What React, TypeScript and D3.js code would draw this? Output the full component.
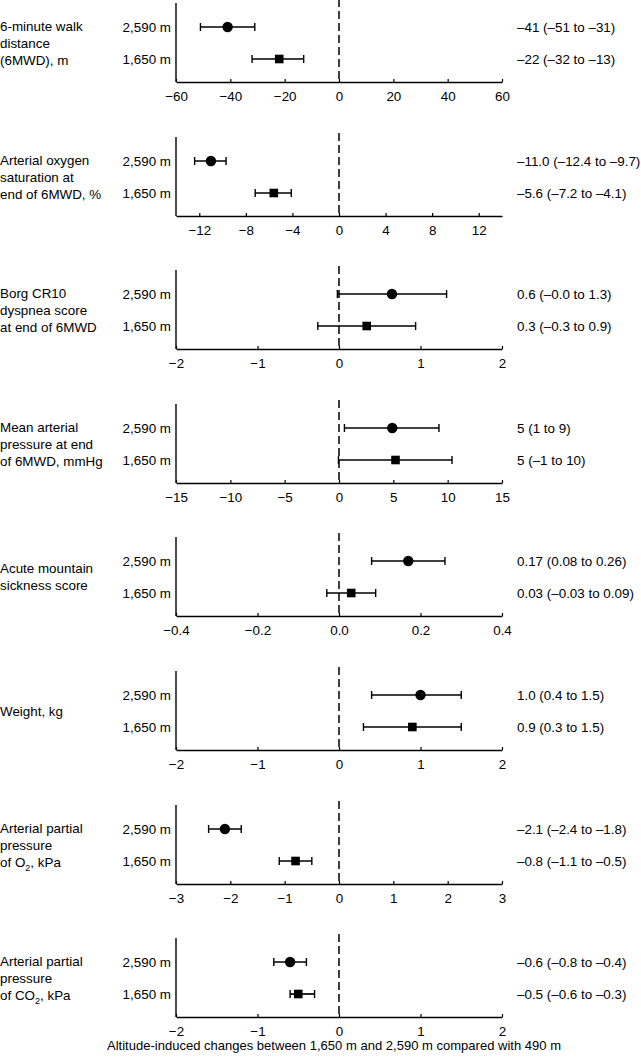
import { useEffect, useRef } from 'react';
import * as d3 from 'd3';

const WIDTH = 641;
const HEIGHT = 1058;

// one entry per panel, top to bottom
const panelLabels = [
  ['6-minute walk', 'distance', '(6MWD), m'],
  ['Arterial oxygen', 'saturation at', 'end of 6MWD, %'],
  ['Borg CR10', 'dyspnea score', 'at end of 6MWD'],
  ['Mean arterial', 'pressure at end', 'of 6MWD, mmHg'],
  ['Acute mountain', 'sickness score'],
  ['Weight, kg'],
  ['Arterial partial', 'pressure', 'of O|2|, kPa'],
  ['Arterial partial', 'pressure', 'of CO|2|, kPa'],
];

const altitudes = ['2,590 m', '1,650 m'];

const domains: [number, number][] = [
  [-60, 60], [-14, 14], [-2, 2], [-15, 15], [-0.4, 0.4], [-2, 2], [-3, 3], [-2, 2],
];

const tickValues = [
  [-60, -40, -20, 0, 20, 40, 60],
  [-12, -8, -4, 0, 4, 8, 12],
  [-2, -1, 0, 1, 2],
  [-15, -10, -5, 0, 5, 10, 15],
  [-0.4, -0.2, 0, 0.2, 0.4],
  [-2, -1, 0, 1, 2],
  [-3, -2, -1, 0, 1, 2, 3],
  [-2, -1, 0, 1, 2],
];

const tickDecimals = [0, 0, 0, 0, 1, 0, 0, 0];

// estimates and CI bounds as drawn
const est2590 = [-41, -11.0, 0.65, 4.9, 0.17, 1.0, -2.1, -0.6];
const lo2590 = [-51, -12.4, -0.02, 0.5, 0.08, 0.4, -2.4, -0.8];
const hi2590 = [-31, -9.7, 1.32, 9.2, 0.26, 1.5, -1.8, -0.4];
const est1650 = [-22, -5.6, 0.34, 5.2, 0.03, 0.9, -0.8, -0.5];
const lo1650 = [-32, -7.2, -0.26, -0.05, -0.03, 0.3, -1.1, -0.6];
const hi1650 = [-13, -4.1, 0.94, 10.4, 0.09, 1.5, -0.5, -0.3];

const text2590 = [
  '\u201341 (\u201351 to \u201331)',
  '\u201311.0 (\u201312.4 to \u20139.7)',
  '0.6 (\u20130.0 to 1.3)',
  '5 (1 to 9)',
  '0.17 (0.08 to 0.26)',
  '1.0 (0.4 to 1.5)',
  '\u20132.1 (\u20132.4 to \u20131.8)',
  '\u20130.6 (\u20130.8 to \u20130.4)',
];
const text1650 = [
  '\u201322 (\u201332 to \u201313)',
  '\u20135.6 (\u20137.2 to \u20134.1)',
  '0.3 (\u20130.3 to 0.9)',
  '5 (\u20131 to 10)',
  '0.03 (\u20130.03 to 0.09)',
  '0.9 (0.3 to 1.5)',
  '\u20130.8 (\u20131.1 to \u20130.5)',
  '\u20130.5 (\u20130.6 to \u20130.3)',
];

const xTitle = 'Altitude-induced changes between 1,650 m and 2,590 m compared with 490 m';

export default function App() {
  const svgRef = useRef<SVGSVGElement>(null);

  useEffect(() => {
    if (!svgRef.current) return;
    const svg = d3.select(svgRef.current);
    svg.selectAll('*').remove();

    const font = '"Liberation Sans", Arial, sans-serif';
    const fs = 13.4;
    const ink = '#000';
    const left = 176;
    const right = 502;
    const firstAxisY = 82;
    const step = 133.6;

    const panelY = d3.scaleLinear().domain([0, 1]).range([firstAxisY, firstAxisY + step]);

    panelLabels.forEach((lines, i) => {
      const axisY = Math.round(panelY(i));
      const rowY = [axisY - 55, axisY - 23];
      const x = d3.scaleLinear().domain(domains[i]).range([left, right]);
      const g = svg.append('g');

      // left label, centred between the two rows
      const mid = (rowY[0] + rowY[1]) / 2;
      const lh = 17;
      lines.forEach((line, j) => {
        const t = g.append('text')
          .attr('x', 0)
          .attr('y', mid + (j - (lines.length - 1) / 2) * lh)
          .attr('dy', '0.35em')
          .attr('font-family', font)
          .attr('font-size', fs)
          .attr('fill', ink);
        const parts = line.split('|');
        t.append('tspan').text(parts[0]);
        if (parts.length > 1) {
          t.append('tspan').attr('font-size', 9).attr('dy', 4).text(parts[1]);
          t.append('tspan').attr('dy', -4).text(parts[2]);
        }
      });

      // altitude row labels
      altitudes.forEach((a, j) => {
        g.append('text')
          .attr('x', 171)
          .attr('y', rowY[j])
          .attr('dy', '0.35em')
          .attr('text-anchor', 'end')
          .attr('font-family', font)
          .attr('font-size', fs)
          .attr('fill', ink)
          .text(a);
      });

      // right side values
      [text2590[i], text1650[i]].forEach((s, j) => {
        g.append('text')
          .attr('x', 517)
          .attr('y', rowY[j])
          .attr('dy', '0.35em')
          .attr('font-family', font)
          .attr('font-size', fs)
          .attr('fill', ink)
          .text(s);
      });

      // vertical axis line
      g.append('line')
        .attr('x1', left).attr('x2', left)
        .attr('y1', axisY - 79).attr('y2', axisY)
        .attr('stroke', ink).attr('stroke-width', 1.4);

      // dashed zero line
      g.append('line')
        .attr('x1', x(0)).attr('x2', x(0))
        .attr('y1', axisY - 83).attr('y2', axisY)
        .attr('stroke', ink).attr('stroke-width', 1.5)
        .attr('stroke-dasharray', '8,4');

      // x axis
      const fmt = (d: d3.NumberValue) => {
        const v = d3.format(`.${tickDecimals[i]}f`)(+d);
        return v.replace('-', '\u2013');
      };
      const axis = d3.axisBottom(x)
        .tickValues(tickValues[i])
        .tickSizeInner(-3)
        .tickSizeOuter(0)
        .tickPadding(9)
        .tickFormat(fmt);
      const ag = g.append('g')
        .attr('transform', `translate(0,${axisY})`)
        .call(axis);
      ag.select('.domain').attr('stroke', ink).attr('stroke-width', 1.4);
      ag.selectAll('.tick line').attr('stroke', ink).attr('stroke-width', 1.2);
      ag.selectAll('.tick text')
        .attr('font-family', font)
        .attr('font-size', fs)
        .attr('fill', ink);

      // error bars and markers
      const rows = [
        { est: est2590[i], lo: lo2590[i], hi: hi2590[i], y: rowY[0], shape: 'circle' },
        { est: est1650[i], lo: lo1650[i], hi: hi1650[i], y: rowY[1], shape: 'square' },
      ];
      rows.forEach((r) => {
        g.append('line')
          .attr('x1', x(r.lo)).attr('x2', x(r.hi))
          .attr('y1', r.y).attr('y2', r.y)
          .attr('stroke', ink).attr('stroke-width', 1.7);
        [r.lo, r.hi].forEach((v) => {
          g.append('line')
            .attr('x1', x(v)).attr('x2', x(v))
            .attr('y1', r.y - 4).attr('y2', r.y + 4)
            .attr('stroke', ink).attr('stroke-width', 1.4);
        });
        if (r.shape === 'circle') {
          g.append('circle')
            .attr('cx', x(r.est)).attr('cy', r.y).attr('r', 5.2)
            .attr('fill', ink);
        } else {
          g.append('rect')
            .attr('x', x(r.est) - 4.3).attr('y', r.y - 4.3)
            .attr('width', 8.6).attr('height', 8.6)
            .attr('fill', ink);
        }
      });
    });

    svg.append('text')
      .attr('x', 107)
      .attr('y', 1045)
      .attr('dy', '0.35em')
      .attr('font-family', font)
      .attr('font-size', 13)
      .attr('textLength', 454)
      .attr('fill', ink)
      .text(xTitle);
  }, []);

  return (
    <svg
      ref={svgRef}
      width={WIDTH}
      height={HEIGHT}
      style={{ position: 'absolute', left: 0, top: 0, background: '#fff' }}
    />
  );
}
